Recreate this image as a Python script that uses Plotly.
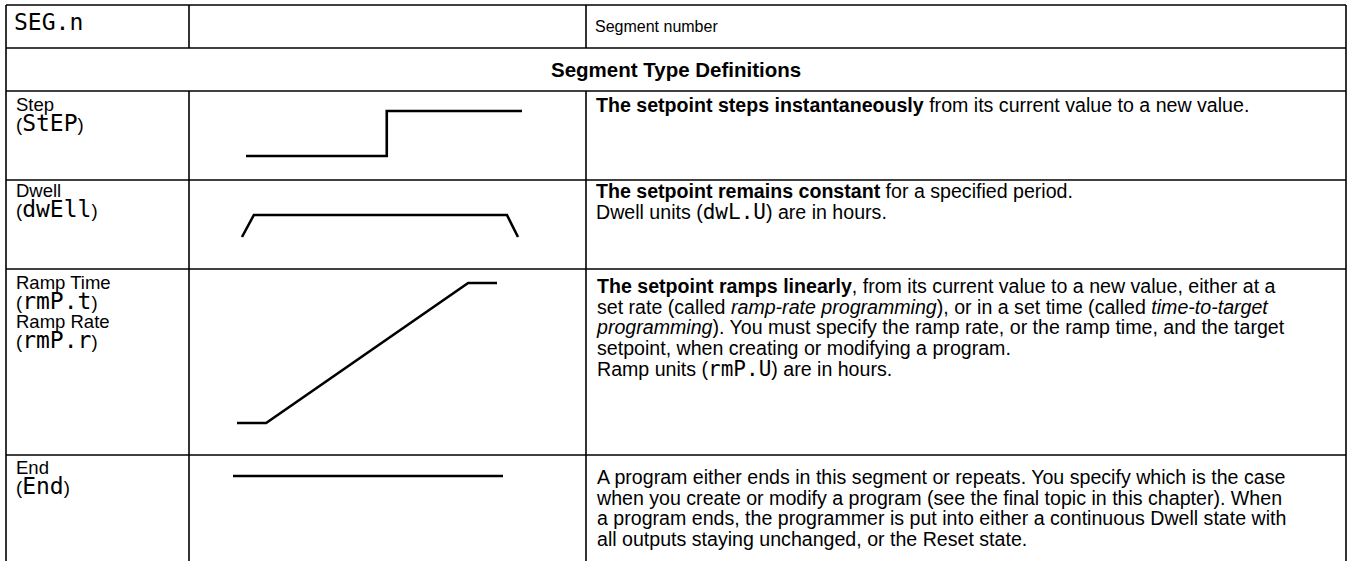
import plotly.graph_objects as go

W, H = 1351, 561

# ---- table grid (pixel positions of ruling lines) ----
col_x = [6, 189, 586, 1346]
row_y = [5, 48, 91, 180, 269, 455, 561]

# ---- segment profiles read from the sketches (time, setpoint), normalised ----
step_t = [0.0, 0.51, 0.51, 1.0]
step_sp = [0.0, 0.0, 1.0, 1.0]
dwell_t = [0.0, 0.043, 0.96, 1.0]
dwell_sp = [0.0, 1.0, 1.0, 0.0]
ramp_t = [0.0, 0.112, 0.889, 1.0]
ramp_sp = [0.0, 0.0, 1.0, 1.0]
end_t = [0.0, 1.0]
end_sp = [0.5, 0.5]

# ---- texts ----
seg_code = "SEG.n"
seg_desc = "Segment number"
header = "Segment Type Definitions"
# (lines, first-line centre y); codes are shown in the display font
labels = [
    ([("Step", False), ("StEP", True)], 104),
    ([("Dwell", False), ("dwEll", True)], 190),
    ([("Ramp Time", False), ("rmP.t", True), ("Ramp Rate", False), ("rmP.r", True)], 282),
    ([("End", False), ("End", True)], 467),
]
CODE_FONT = "DejaVu Sans Mono, monospace"
FONT = "Liberation Sans, Arial, Helvetica, sans-serif"
DESC_SIZE = 19.6
LABEL_SIZE = 18.5
CODE_SIZE = 23
DESC_LINE = 20.7
LABEL_LINE = 19.6


def code(s, size):
    return "<span style='font-family:DejaVu Sans Mono;font-size:%dpx'>%s</span>" % (size, s)


def sized(s, size):
    return "<span style='font-size:%.1fpx'>%s</span>" % (size, s)


step_desc = ["<b>The setpoint steps instantaneously</b> from its current value to a new value."]
dwell_desc = ["<b>The setpoint remains constant</b> for a specified period.",
              "Dwell units (%s) are in hours." % code("dwL.U", 21)]
ramp_desc = ["<b>The setpoint ramps linearly</b>, from its current value to a new value, either at a",
             "set rate (called <i>ramp-rate programming</i>), or in a set time (called <i>time-to-target</i>",
             "<i>programming</i>). You must specify the ramp rate, or the ramp time, and the target",
             "setpoint, when creating or modifying a program.",
             "Ramp units (%s) are in hours." % code("rmP.U", 21)]
end_desc = ["A program either ends in this segment or repeats. You specify which is the case",
            "when you create or modify a program (see the final topic in this chapter). When",
            "a program ends, the programmer is put into either a continuous Dwell state with",
            "all outputs staying unchanged, or the Reset state."]
desc_blocks = [(step_desc, 105), (dwell_desc, 191), (ramp_desc, 286), (end_desc, 477)]

# diagram boxes in pixels (x0, x1, y_top, y_bottom)
boxes = [(246, 522, 111, 156), (242, 518, 215, 237), (237, 497, 283, 423), (233, 503, 466, 486)]
profiles = [(step_t, step_sp), (dwell_t, dwell_sp), (ramp_t, ramp_sp), (end_t, end_sp)]

fig = go.Figure()
layout_axes = {}
PAD = 6
for i, ((x0, x1, yt, yb), (tt, sp)) in enumerate(zip(boxes, profiles)):
    n = "" if i == 0 else str(i + 1)
    w = x1 - x0
    h = yb - yt
    fig.add_trace(go.Scatter(x=tt, y=sp, mode="lines", xaxis="x" + n, yaxis="y" + n,
                             line=dict(color="black", width=2.6), hoverinfo="skip", showlegend=False))
    layout_axes["xaxis" + n] = dict(domain=[(x0 - PAD) / W, (x1 + PAD) / W],
                                    range=[-PAD / w, 1 + PAD / w], visible=False, fixedrange=True,
                                    anchor="y" + n)
    layout_axes["yaxis" + n] = dict(domain=[1 - (yb + PAD) / H, 1 - (yt - PAD) / H],
                                    range=[-PAD / h, 1 + PAD / h], visible=False, fixedrange=True,
                                    anchor="x" + n)


def px(x):
    return x / W


def py(y):
    return 1 - y / H


shapes = []
LW = 1.6


def hline(y, xa, xb):
    shapes.append(dict(type="line", xref="paper", yref="paper", x0=px(xa), x1=px(xb), y0=py(y), y1=py(y),
                       line=dict(color="black", width=LW)))


def vline(x, ya, yb):
    shapes.append(dict(type="line", xref="paper", yref="paper", x0=px(x), x1=px(x), y0=py(ya), y1=py(yb),
                       line=dict(color="black", width=LW)))


for y in row_y[:-1]:
    hline(y, col_x[0], col_x[-1])
vline(col_x[0], row_y[0], row_y[-1])
vline(col_x[-1], row_y[0], row_y[-1])
for x in col_x[1:-1]:
    vline(x, row_y[0], row_y[1])
    vline(x, row_y[2], row_y[-1])

ann = []


def text(x, y, s, size=DESC_SIZE, xanchor="left", family=FONT, yanchor="middle"):
    ann.append(dict(x=px(x), y=py(y), xref="paper", yref="paper", text=s, showarrow=False,
                    xanchor=xanchor, yanchor=yanchor, align="left", borderpad=0,
                    font=dict(family=family, size=size, color="black")))


text(13, 22, seg_code, size=23, family=CODE_FONT)
text(594, 26, seg_desc, size=16)
text((col_x[0] + col_x[-1]) / 2, 69, "<b>%s</b>" % header, size=20.5, xanchor="center")

# label column: one text block per row, tight line spacing
for lines, yc in labels:
    parts = []
    for s, is_code in lines:
        if is_code:
            parts.append(sized("(", LABEL_SIZE) + code(s, CODE_SIZE) + sized(")", LABEL_SIZE))
        else:
            parts.append(sized(s, LABEL_SIZE))
    text(15, yc - 0.55 * LABEL_SIZE - 1, "<br>".join(parts), size=LABEL_LINE / 1.3, yanchor="top")

# description column: one text block per row
for lines, yc in desc_blocks:
    body = "<br>".join(sized(s, DESC_SIZE) for s in lines)
    text(595, yc - 0.55 * DESC_SIZE - 1, body, size=DESC_LINE / 1.3, yanchor="top")

fig.update_layout(width=W, height=H, margin=dict(l=0, r=0, t=0, b=0),
                  paper_bgcolor="white", plot_bgcolor="white",
                  shapes=shapes, annotations=ann, showlegend=False, **layout_axes)
fig.write_html("out.html", config={"displayModeBar": False, "staticPlot": True},
               post_script="document.body.style.margin='0px';")
